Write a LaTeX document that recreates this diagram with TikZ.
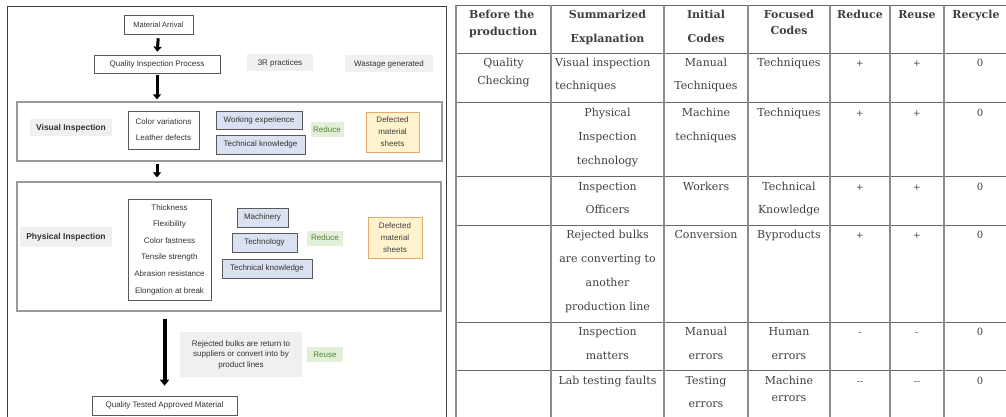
\documentclass[tikz,border=0pt]{standalone}
\usepackage{fontspec}
\usetikzlibrary{arrows.meta}
\newfontfamily\lfont{Liberation Sans}
\newfontfamily\tfont{DejaVu Serif}
\definecolor{bluefill}{RGB}{218,225,240}
\definecolor{greenfill}{RGB}{226,240,217}
\definecolor{greentext}{RGB}{84,130,53}
\definecolor{yellowfill}{RGB}{255,242,204}
\definecolor{yellowline}{RGB}{225,170,110}
\newcommand\tst{\rule{0pt}{9pt}}
\newcommand\tcell[5][]{\node[cell,#1] (#2) at (#3,#4) {\tst #5};}
\begin{document}
\begin{tikzpicture}[x=1pt,y=-1pt,
  lbox/.style={draw=black!65, line width=0.6pt, fill=white, inner sep=0pt, align=center,
    font=\lfont\fontsize{8}{10}\selectfont, text=black!80},
  gbox/.style={fill=black!6, draw=none, inner sep=0pt, align=center,
    font=\lfont\fontsize{8}{10}\selectfont, text=black!80},
  boldlbl/.style={font=\lfont\bfseries\fontsize{8.5}{10}\selectfont},
  bbox/.style={draw=black!65, line width=0.6pt, fill=bluefill, inner sep=0pt, align=center,
    font=\lfont\fontsize{8}{10}\selectfont, text=black!80},
  grbox/.style={fill=greenfill, draw=none, inner sep=0pt, align=center,
    font=\lfont\fontsize{8}{10}\selectfont, text=greentext},
  ybox/.style={fill=yellowfill, draw=yellowline, line width=0.6pt, inner sep=0pt, align=center,
    font=\lfont\fontsize{8}{12}\selectfont, text=black!75},
  frame/.style={draw=black!40, line width=1.2pt, inner sep=0pt},
  barrow/.style={line width=3pt, -{Triangle[width=8pt,length=5pt]}},
  tline/.style={draw=black!60, line width=0.9pt},
  tvline/.style={draw=black!45, line width=1.2pt},
  cell/.style={anchor=north, inner sep=0pt, align=center, text=black!75,
    font=\tfont\fontsize{11}{24}\selectfont},
  hd/.style={font=\tfont\bfseries\fontsize{11}{24}\selectfont},
  sign/.style={font=\tfont\fontsize{9}{24}\selectfont},
  zero/.style={font=\tfont\fontsize{10}{24}\selectfont}
]
\useasboundingbox (0,0) rectangle (1006,417);

% ---------------- left flowchart ----------------
\draw[draw=black!75, line width=1pt] (7,7) rectangle (446,425);

\node[frame, minimum width=425pt, minimum height=59pt] (vframe) at (229.5,131.5) {};
\node[frame, minimum width=424pt, minimum height=129pt] (pframe) at (229,246.5) {};

\node[lbox, minimum width=69pt, minimum height=19pt, font=\lfont\fontsize{7.5}{9}\selectfont] (ma) at (158.5,24.5) {Material Arrival};
\node[lbox, minimum width=126pt, minimum height=18pt] (qip) at (157,64) {Quality Inspection Process};
\node[gbox, minimum width=66pt, minimum height=17pt] (rp) at (280,63) {3R practices};
\node[gbox, minimum width=88pt, minimum height=17pt] (wg) at (389,64) {Wastage generated};

\node[gbox, boldlbl, minimum width=82pt, minimum height=17pt] (vl) at (71,128) {Visual Inspection};
\node[lbox, minimum width=71pt, minimum height=38pt, font=\lfont\fontsize{8}{16}\selectfont] (vlist) at (163.5,130) {Color variations\\Leather defects};
\node[bbox, minimum width=86pt, minimum height=18pt] (we) at (259,120) {Working experience};
\node[bbox, minimum width=89pt, minimum height=19pt] (tk1) at (260.5,144.5) {Technical knowledge};
\node[grbox, minimum width=33pt, minimum height=15pt] (red1) at (327,130) {Reduce};
\node[ybox, minimum width=53pt, minimum height=40pt] (dm1) at (392.5,132) {Defected\\material\\sheets};

\node[gbox, boldlbl, minimum width=92pt, minimum height=20pt] (pl) at (66,237) {Physical Inspection};
\node[lbox, minimum width=83pt, minimum height=101pt, font=\lfont\fontsize{8}{16.6}\selectfont] (plist) at (169.5,249.5) {Thickness\\Flexibility\\Color fastness\\Tensile strength\\Abrasion resistance\\Elongation at break};
\node[bbox, minimum width=51pt, minimum height=19pt] (mach) at (262.5,217.5) {Machinery};
\node[bbox, minimum width=65pt, minimum height=19pt] (tech) at (264.5,242.5) {Technology};
\node[bbox, minimum width=90pt, minimum height=19pt] (tk2) at (267,268.5) {Technical knowledge};
\node[grbox, minimum width=36pt, minimum height=15pt] (red2) at (325,238) {Reduce};
\node[ybox, minimum width=54pt, minimum height=41pt] (dm2) at (395,237.5) {Defected\\material\\sheets};

\node[gbox, minimum width=122pt, minimum height=45pt, font=\lfont\fontsize{8}{10.5}\selectfont] (rej) at (241,354.5) {Rejected bulks are return to\\suppliers or convert into by\\product lines};
\node[grbox, minimum width=36pt, minimum height=15pt] (reuse) at (325,354.5) {Reuse};
\node[lbox, minimum width=145pt, minimum height=19pt] (final) at (164.5,405.5) {Quality Tested Approved Material};

\draw[barrow, shorten <=4pt, shorten >=3pt] (ma.south) -- (qip.north);
\draw[barrow, shorten <=2pt, shorten >=2pt] (qip.south) -- (qip.south |- vframe.north);
\draw[barrow, shorten <=2pt, shorten >=4pt] (vframe.south -| qip.south) -- (qip.south |- pframe.north);
\draw[barrow, line width=4pt, -{Triangle[width=9pt,length=6pt]}, shorten <=7pt, shorten >=10pt] (pframe.south -| final.north) -- (final.north);

% ---------------- right table ----------------
\foreach \yy in {5,53,102,176,225,322,370} \draw[tline] (456,\yy) -- (1010,\yy);
\foreach \xx in {456,551,664,748,830,890,944} \draw[tvline] (\xx,5) -- (\xx,425);

% header
\tcell[hd, anchor=north west, align=left, font=\tfont\bfseries\fontsize{11}{17}\selectfont]{h1}{469}{9}{Before the\\production}
\tcell[hd]{h2}{607.5}{9}{Summarized\\Explanation}
\tcell[hd]{h3}{706}{9}{Initial\\Codes}
\tcell[hd, font=\tfont\bfseries\fontsize{11}{16}\selectfont]{h4}{789}{9}{Focused\\Codes}
\tcell[hd]{h5}{860}{9}{Reduce}
\tcell[hd]{h6}{917}{9}{Reuse}
\tcell[hd]{h7}{976}{9}{Recycle}

% row 1
\tcell[font=\tfont\fontsize{11}{18}\selectfont]{r1a}{503.5}{57}{Quality\\Checking}
\tcell[anchor=north west, align=left, font=\tfont\fontsize{11}{23}\selectfont]{r1b}{555}{57}{Visual inspection\\techniques}
\tcell[font=\tfont\fontsize{11}{23}\selectfont]{r1c}{706}{57}{Manual\\Techniques}
\tcell{r1d}{789}{57}{Techniques}
\tcell[sign]{r1e}{860}{57}{+}
\tcell[sign]{r1f}{917}{57}{+}
\tcell[zero]{r1g}{980}{57}{0}

% row 2
\tcell{r2b}{607.5}{107}{Physical\\Inspection\\technology}
\tcell{r2c}{706}{107}{Machine\\techniques}
\tcell{r2d}{789}{107}{Techniques}
\tcell[sign]{r2e}{860}{107}{+}
\tcell[sign]{r2f}{917}{107}{+}
\tcell[zero]{r2g}{980}{107}{0}

% row 3
\tcell[font=\tfont\fontsize{11}{23}\selectfont]{r3b}{607.5}{181}{Inspection\\Officers}
\tcell{r3c}{706}{181}{Workers}
\tcell[font=\tfont\fontsize{11}{23}\selectfont]{r3d}{789}{181}{Technical\\Knowledge}
\tcell[sign]{r3e}{860}{181}{+}
\tcell[sign]{r3f}{917}{181}{+}
\tcell[zero]{r3g}{980}{181}{0}

% row 4
\tcell{r4b}{607.5}{229}{Rejected bulks\\are converting to\\another\\production line}
\tcell{r4c}{706}{229}{Conversion}
\tcell{r4d}{789}{229}{Byproducts}
\tcell[sign]{r4e}{860}{229}{+}
\tcell[sign]{r4f}{917}{229}{+}
\tcell[zero]{r4g}{980}{229}{0}

% row 5
\tcell{r5b}{607.5}{326}{Inspection\\matters}
\tcell{r5c}{706}{326}{Manual\\errors}
\tcell{r5d}{789}{326}{Human\\errors}
\tcell[sign]{r5e}{860}{326}{-}
\tcell[sign]{r5f}{917}{326}{-}
\tcell[zero]{r5g}{980}{326}{0}

% row 6
\tcell{r6b}{607.5}{375}{Lab testing faults}
\tcell[font=\tfont\fontsize{11}{23}\selectfont]{r6c}{706}{375}{Testing\\errors}
\tcell[font=\tfont\fontsize{11}{17}\selectfont]{r6d}{789}{375}{Machine\\errors}
\tcell[sign]{r6e}{860}{375}{--}
\tcell[sign]{r6f}{917}{375}{--}
\tcell[zero]{r6g}{980}{375}{0}
\end{tikzpicture}
\end{document}
